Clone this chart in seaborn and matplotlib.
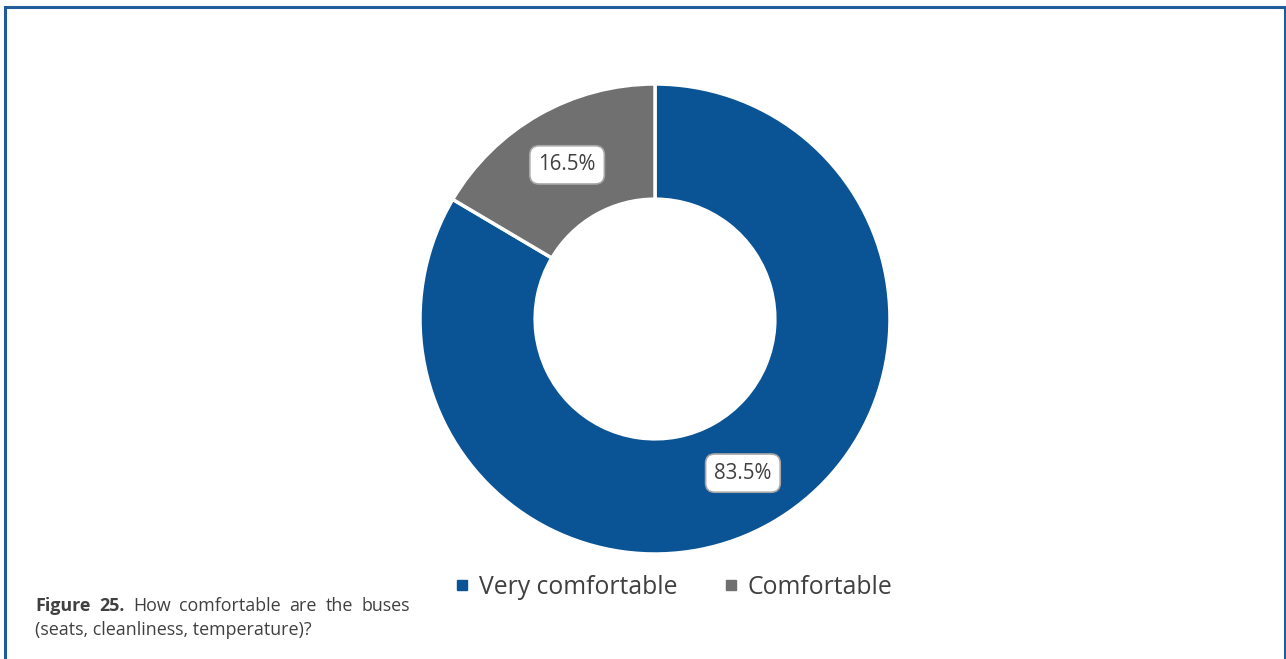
import matplotlib
matplotlib.use("Agg")
import matplotlib.pyplot as plt
from matplotlib.patches import Rectangle
from matplotlib.lines import Line2D
import numpy as np
import seaborn as sns

categories = ["Very comfortable", "Comfortable"]
shares = [83.5, 16.5]
value_labels = ["83.5%", "16.5%"]
caption_bold = "Figure 25."
caption_rest = "How comfortable are the buses"
caption_line2 = "(seats, cleanliness, temperature)?"

sns.set_theme(style="white")
plt.rcParams["font.family"] = ["Open Sans", "DejaVu Sans"]

colors = sns.color_palette(["#0A5496", "#707070"])
text_color = "#404040"

W, H = 1286, 659
fig = plt.figure(figsize=(W / 100, H / 100), dpi=100)
fig.patch.set_facecolor("white")

# blue frame around the figure
fig.add_artist(Rectangle((4.5 / W, -0.05), (1284.5 - 4.5) / W, 1.05 - 6.5 / H,
                         transform=fig.transFigure, fill=False,
                         edgecolor="#1F5C99", linewidth=2.2))

cx, cy, r = 655, 319, 235
ax = fig.add_axes([(cx - r) / W, (H - cy - r) / H, 2 * r / W, 2 * r / H])

wedges, _ = ax.pie(shares, colors=colors, startangle=90, counterclock=False,
                   radius=1, wedgeprops=dict(width=0.49, edgecolor="white", linewidth=2.5))
ax.set_xlim(-1, 1)
ax.set_ylim(-1, 1)
ax.set_aspect("equal")
ax.axis("off")

# value labels centred in the ring of each slice
start = 90.0
total = sum(shares)
for val, lab in zip(shares, value_labels):
    mid = np.deg2rad(start - val / total * 180)
    start -= val / total * 360
    rr = 0.755
    ax.text(rr * np.cos(mid), rr * np.sin(mid), lab, ha="center", va="center",
            fontsize=14.8, color=text_color,
            bbox=dict(boxstyle="round,pad=0.42,rounding_size=0.45", fc="white",
                      ec="#A6A6A6", lw=1.2))

handles = [Line2D([], [], ls="none", marker="s", markersize=7.5,
                  markerfacecolor=c, markeredgecolor=c) for c in colors]
leg = fig.legend(handles, categories, loc="center", ncol=2,
                 bbox_to_anchor=(674 / W, 1 - 587 / H), frameon=False,
                 fontsize=17.8, handlelength=0.5, handletextpad=0.45,
                 columnspacing=1.9, labelcolor=text_color)

# caption: first line justified between x=35 and x=410 px
fs = 12.9
renderer = fig.canvas.get_renderer()
words = [(w, "bold") for w in caption_bold.split()] + [(w, "normal") for w in caption_rest.split()]
arts = []
for w, weight in words:
    t = fig.text(0, 1 - 606 / H, w, fontsize=fs, fontweight=weight,
                 color=text_color, va="center", ha="left")
    arts.append(t)
widths = [a.get_window_extent(renderer).width for a in arts]
left_px, right_px = 35, 410
gap = (right_px - left_px - sum(widths)) / (len(arts) - 1)
x = left_px
for a, wpx in zip(arts, widths):
    a.set_x(x / W)
    x += wpx + gap

fig.text(35 / W, 1 - 630 / H, caption_line2, fontsize=fs,
         color=text_color, va="center", ha="left")

fig.savefig("out.png", dpi=100)
